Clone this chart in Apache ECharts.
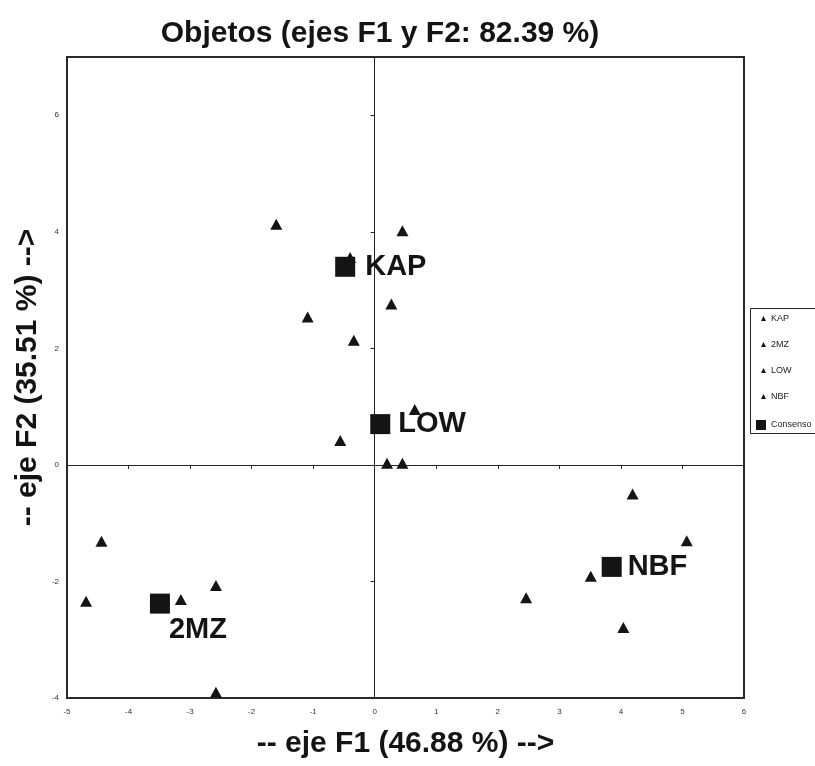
<!DOCTYPE html>
<html lang="es" style="height: 100%">
<head>
  <meta charset="utf-8">
</head>
<body style="height: 100%; margin: 0; background: #fff">
  <div id="container" style="width: 815px; height: 766px"></div>

  <script type="text/javascript" src="https://fastly.jsdelivr.net/npm/echarts@6/dist/echarts.min.js"></script>
  <script type="text/javascript">
    // objects per judge, [F1, F2]
    var kap = [[-1.60, 4.13], [0.45, 4.02], [-0.40, 3.56], [0.27, 2.76], [-1.09, 2.54]];
    var mz2 = [[-4.44, -1.31], [-4.69, -2.34], [-3.15, -2.31], [-2.58, -2.07], [-2.58, -3.90]];
    var low = [[-0.34, 2.14], [0.65, 0.95], [-0.56, 0.42], [0.20, 0.03], [0.45, 0.03]];
    var nbf = [[4.19, -0.50], [5.07, -1.30], [3.51, -1.91], [2.46, -2.28], [4.04, -2.79]];
    // consensus positions
    var consNames = ['KAP', '2MZ', 'LOW', 'NBF'];
    var consValues = [[-0.48, 3.40], [-3.49, -2.38], [0.09, 0.70], [3.85, -1.75]];

    var font = "'Liberation Sans', Arial, sans-serif";
    var ink = '#141414';

    var labelSetup = {
      'KAP': { position: 'right', distance: 10 },
      '2MZ': { position: 'bottom', distance: 2, offset: [38, 0] },
      'LOW': { position: 'right', distance: 8 },
      'NBF': { position: 'right', distance: 6 }
    };

    var consData = consNames.map(function (n, i) {
      return { name: n, value: consValues[i], label: labelSetup[n] };
    });

    function judge(name, data) {
      return {
        name: name,
        type: 'scatter',
        symbol: 'triangle',
        symbolSize: [12, 11],
        itemStyle: { color: ink, opacity: 1 },
        data: data,
        z: 3
      };
    }

    var dom = document.getElementById('container');
    var myChart = echarts.init(dom, null, { renderer: 'canvas' });

    var option = {
      backgroundColor: '#fff',
      animation: false,
      textStyle: { fontFamily: font },
      title: {
        text: 'Objetos (ejes F1 y F2: 82.39 %)',
        left: 375,
        textAlign: 'center',
        top: 14,
        textStyle: { fontSize: 30, fontWeight: 'bold', color: ink, fontFamily: font }
      },
      grid: {
        left: 67, right: 71, top: 57, bottom: 68,
        show: true,
        borderColor: '#2a2a2a',
        borderWidth: 2
      },
      legend: [
        {
          data: ['KAP', '2MZ', 'LOW', 'NBF'],
          orient: 'vertical',
          left: 756, top: 309,
          itemWidth: 5, itemHeight: 5,
          itemGap: 17,
          textStyle: { fontSize: 9, color: '#222', fontFamily: font }
        },
        {
          data: ['Consenso'],
          orient: 'vertical',
          left: 751, top: 415,
          itemWidth: 10, itemHeight: 10,
          textStyle: { fontSize: 9, color: '#222', fontFamily: font }
        }
      ],
      graphic: [{
        type: 'rect',
        left: 748, top: 306,
        shape: { width: 80, height: 125 },
        style: { fill: 'none', stroke: '#222', lineWidth: 1 }
      }],
      xAxis: [
        {
          type: 'value', min: -5, max: 6, interval: 1,
          position: 'bottom',
          name: '-- eje F1 (46.88 %) -->',
          nameLocation: 'middle',
          nameGap: 31,
          nameMoveOverlap: false,
          nameTextStyle: { fontSize: 30, fontWeight: 'bold', color: ink, fontFamily: font },
          axisLine: { show: false, onZero: false },
          axisTick: { show: false },
          splitLine: { show: false },
          axisLabel: { fontSize: 8, color: '#333', margin: 10 }
        },
        {
          type: 'value', min: -5, max: 6, interval: 1,
          position: 'bottom',
          axisLine: { show: true, onZero: true, onZeroAxisIndex: 0, lineStyle: { color: '#222', width: 1 } },
          axisTick: { show: true, length: 4, lineStyle: { color: '#222' } },
          axisLabel: { show: false },
          splitLine: { show: false }
        }
      ],
      yAxis: [
        {
          type: 'value', min: -4, max: 7, interval: 2,
          position: 'left',
          name: '-- eje F2 (35.51 %) -->',
          nameLocation: 'middle',
          nameGap: 24,
          nameMoveOverlap: false,
          nameTextStyle: { fontSize: 30, fontWeight: 'bold', color: ink, fontFamily: font },
          axisLine: { show: false, onZero: false },
          axisTick: { show: false },
          splitLine: { show: false },
          axisLabel: { fontSize: 8, color: '#333', margin: 8, showMaxLabel: false }
        },
        {
          type: 'value', min: -4, max: 7, interval: 2,
          position: 'left',
          axisLine: { show: true, onZero: true, onZeroAxisIndex: 0, lineStyle: { color: '#222', width: 1 } },
          axisTick: { show: true, length: 4, lineStyle: { color: '#222' } },
          axisLabel: { show: false },
          splitLine: { show: false }
        }
      ],
      series: [
        judge('KAP', kap),
        judge('2MZ', mz2),
        judge('LOW', low),
        judge('NBF', nbf),
        {
          name: 'Consenso',
          type: 'scatter',
          symbol: 'rect',
          symbolSize: 20,
          itemStyle: { color: ink, opacity: 1 },
          data: consData,
          z: 4,
          label: {
            show: true,
            formatter: '{b}',
            fontSize: 29,
            fontWeight: 'bold',
            color: ink,
            fontFamily: font
          }
        }
      ]
    };

    myChart.setOption(option);
    window.addEventListener('resize', myChart.resize);
  </script>
</body>
</html>
